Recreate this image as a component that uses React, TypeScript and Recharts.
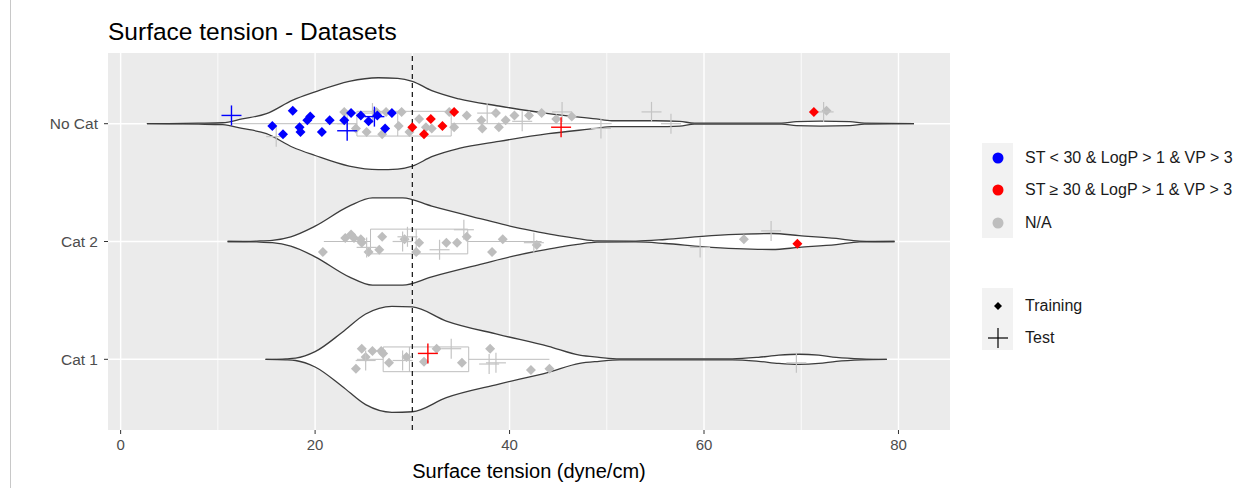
import React from "react";
import {
  ComposedChart,
  Area,
  Scatter,
  XAxis,
  YAxis,
  CartesianGrid,
  ReferenceLine,
  ReferenceArea,
} from "recharts";

// y positions: 1 = Cat 1, 2 = Cat 2, 3 = No Cat
const categoryLabels: Record<number, string> = { 1: "Cat 1", 2: "Cat 2", 3: "No Cat" };
const yTicks = [1, 2, 3];
const xTicks = [0, 20, 40, 60, 80];
const xMinor = [10, 30, 50, 70];
const threshold = 30;

// violin outlines: [surface tension, half width]
const violinNoCat: [number, number][] = [
  [2.7, 0], [8, 0.004], [10.5, 0.008], [12.5, 0.04], [15, 0.085], [17.7, 0.2],
  [20, 0.27], [23.5, 0.36], [26.5, 0.39], [28.5, 0.385], [30, 0.36], [32, 0.28],
  [34.8, 0.21], [38.9, 0.15], [44, 0.085], [48.9, 0.04], [50.5, 0.025], [55, 0.025],
  [57.5, 0.02], [59, 0.004], [68, 0.004], [69.5, 0.017], [72, 0.021], [75, 0.017],
  [76.5, 0.004], [81.6, 0],
];
const violinCat2: [number, number][] = [
  [11, 0], [14, 0.004], [15.6, 0.01], [17.5, 0.04], [20, 0.13], [23.5, 0.3],
  [25.9, 0.37], [29, 0.37], [32, 0.3], [37.2, 0.19], [40.6, 0.12], [43, 0.08],
  [45, 0.05], [47, 0.025], [49, 0.006], [53, 0.004], [56, 0.017], [59.8, 0.043],
  [63.3, 0.06], [67, 0.068], [69.8, 0.05], [73.6, 0.026], [76, 0.004], [79.6, 0],
];
const violinCat1: [number, number][] = [
  [14.9, 0], [17, 0.004], [18, 0.01], [20, 0.065], [22.8, 0.23], [25.2, 0.385],
  [27.9, 0.45], [30, 0.445], [33.5, 0.325], [38.9, 0.21], [44, 0.11], [47.2, 0.035],
  [49.2, 0.017], [51.3, 0.004], [62.9, 0.004], [65.6, 0.017], [67.7, 0.035],
  [69.8, 0.043], [71.8, 0.035], [73.6, 0.017], [76.2, 0.004], [78.8, 0],
];

// box plots: category, lower whisker, q1, median, q3, upper whisker
const boxes = [
  { cat: 3, lo: 11.4, q1: 24.3, med: 28.5, q3: 34, hi: 50.5 },
  { cat: 2, lo: 20.9, q1: 25.7, med: 30.4, q3: 35.7, hi: 43.3 },
  { cat: 1, lo: 24.3, q1: 27, med: 29.7, q3: 35.8, hi: 44.1 },
];
const boxHalf = 0.105;

// points (x = surface tension, y = category + jitter)
const grayTraining = [
  { x: 23.0, y: 3.1 }, { x: 24.2, y: 2.96 }, { x: 25.3, y: 2.93 }, { x: 26.3, y: 3.1 },
  { x: 27.3, y: 3.1 }, { x: 26.9, y: 2.91 }, { x: 28.6, y: 2.98 }, { x: 28.9, y: 3.1 },
  { x: 29.7, y: 2.93 }, { x: 30.7, y: 3.04 }, { x: 31.4, y: 2.97 }, { x: 32.0, y: 2.96 },
  { x: 33.8, y: 3.1 }, { x: 34.3, y: 2.97 }, { x: 35.6, y: 3.07 }, { x: 37.1, y: 3.03 },
  { x: 37.2, y: 2.96 }, { x: 38.6, y: 3.09 }, { x: 38.9, y: 2.97 }, { x: 39.6, y: 3.03 },
  { x: 40.5, y: 3.07 }, { x: 42.0, y: 3.07 }, { x: 43.3, y: 3.09 }, { x: 44.8, y: 3.04 },
  { x: 46.4, y: 3.06 }, { x: 72.6, y: 3.11 },
  { x: 20.8, y: 1.91 }, { x: 23.1, y: 2.03 }, { x: 23.7, y: 2.06 }, { x: 24.0, y: 2.03 },
  { x: 24.7, y: 2.02 }, { x: 24.8, y: 1.99 }, { x: 25.5, y: 1.91 }, { x: 26.6, y: 1.93 },
  { x: 26.9, y: 2.04 }, { x: 29.2, y: 2.02 }, { x: 30.4, y: 1.91 }, { x: 30.7, y: 1.99 },
  { x: 33.5, y: 1.99 }, { x: 34.6, y: 1.99 }, { x: 35.6, y: 2.04 }, { x: 38.2, y: 1.91 },
  { x: 39.3, y: 2.02 }, { x: 42.8, y: 1.97 }, { x: 64.1, y: 2.02 },
  { x: 24.8, y: 1.09 }, { x: 24.2, y: 0.92 }, { x: 25.2, y: 1.02 }, { x: 25.9, y: 1.07 },
  { x: 26.8, y: 1.07 }, { x: 27.0, y: 1.05 }, { x: 27.6, y: 0.97 }, { x: 29.4, y: 1.02 },
  { x: 31.2, y: 0.98 }, { x: 32.5, y: 1.09 }, { x: 35.1, y: 0.97 }, { x: 38.0, y: 1.09 },
  { x: 42.2, y: 0.91 }, { x: 44.1, y: 0.92 },
];
const grayTest = [
  { x: 23.3, y: 3.0 }, { x: 25.9, y: 3.09 }, { x: 16.0, y: 2.89 }, { x: 37.7, y: 3.09 },
  { x: 41.3, y: 3.02 }, { x: 45.4, y: 3.1 }, { x: 49.4, y: 2.96 }, { x: 54.6, y: 3.1 },
  { x: 56.6, y: 3.0 }, { x: 72.3, y: 3.1 },
  { x: 25.3, y: 1.95 }, { x: 29.0, y: 2.0 }, { x: 29.5, y: 2.04 }, { x: 32.8, y: 1.93 },
  { x: 35.3, y: 2.1 }, { x: 42.5, y: 1.99 }, { x: 66.9, y: 2.09 }, { x: 59.6, y: 1.95 },
  { x: 25.2, y: 0.99 }, { x: 29.0, y: 0.99 }, { x: 34.0, y: 1.09 }, { x: 37.9, y: 0.96 },
  { x: 38.6, y: 0.97 }, { x: 69.5, y: 0.97 },
];
const redTraining = [
  { x: 34.3, y: 3.1 }, { x: 31.9, y: 3.04 }, { x: 30.0, y: 2.97 }, { x: 31.2, y: 2.91 },
  { x: 33.1, y: 2.98 }, { x: 71.3, y: 3.1 }, { x: 69.6, y: 1.98 },
];
const redTest = [{ x: 45.3, y: 2.97 }, { x: 31.6, y: 1.05 }];
const blueTraining = [
  { x: 17.7, y: 3.11 }, { x: 15.6, y: 2.98 }, { x: 16.7, y: 2.91 }, { x: 18.4, y: 2.97 },
  { x: 18.5, y: 2.93 }, { x: 19.2, y: 3.03 }, { x: 19.5, y: 3.06 }, { x: 20.7, y: 2.93 },
  { x: 21.5, y: 3.03 }, { x: 23.7, y: 3.09 }, { x: 23.0, y: 3.03 }, { x: 24.7, y: 3.07 },
  { x: 25.5, y: 3.02 }, { x: 26.4, y: 3.07 }, { x: 27.2, y: 2.96 }, { x: 27.9, y: 3.09 },
];
const blueTest = [{ x: 11.4, y: 3.07 }, { x: 26.1, y: 3.06 }, { x: 23.3, y: 2.94 }];

const BLUE = "#0000ff";
const RED = "#ff0000";
const GRAY = "#bebebe";
const FONT = "'Liberation Sans', Arial, sans-serif";

const toViolin = (pts: [number, number][], cat: number) =>
  pts.map(([x, w]) => ({ x, r: [cat - w, cat + w] }));

const diamond = (color: string) => (p: any) => {
  const { cx, cy } = p;
  const s = 5;
  return (
    <polygon
      points={`${cx},${cy - s} ${cx + s},${cy} ${cx},${cy + s} ${cx - s},${cy}`}
      fill={color}
    />
  );
};

const plus = (color: string, w: number) => (p: any) => {
  const { cx, cy } = p;
  const s = 10;
  return (
    <g stroke={color} strokeWidth={w}>
      <line x1={cx - s} y1={cy} x2={cx + s} y2={cy} />
      <line x1={cx} y1={cy - s} x2={cx} y2={cy + s} />
    </g>
  );
};

const legendRows = [
  { y: 158, color: BLUE, text: "ST < 30 & LogP > 1 & VP > 3" },
  { y: 190, color: RED, text: "ST ≥ 30 & LogP > 1 & VP > 3" },
  { y: 223, color: GRAY, text: "N/A" },
];
const shapeRows = [
  { y: 306, text: "Training" },
  { y: 338, text: "Test" },
];

const legendText = (y: number, text: string) => (
  <div
    key={text}
    style={{
      position: "absolute",
      left: 1025,
      top: y - 9,
      fontSize: 16,
      lineHeight: "18px",
      color: "#1a1a1a",
      whiteSpace: "nowrap",
    }}
  >
    {text}
  </div>
);

export default function App() {
  return (
    <div
      style={{
        position: "fixed",
        left: 0,
        top: 0,
        width: 1249,
        height: 488,
        background: "#fff",
        fontFamily: FONT,
        overflow: "hidden",
      }}
    >
      <div style={{ position: "absolute", left: 10, top: 0, width: 1, height: 488, background: "#c8c8c8" }} />
      <div
        style={{
          position: "absolute",
          left: 108,
          top: 20,
          fontSize: 24.5,
          lineHeight: "24px",
          color: "#000",
          whiteSpace: "nowrap",
        }}
      >
        Surface tension - Datasets
      </div>

      <ComposedChart
        width={1249}
        height={488}
        margin={{ top: 53, right: 299, bottom: 10, left: 48 }}
        style={{ position: "absolute", left: 0, top: 0 }}
      >
        <CartesianGrid fill="#ebebeb" stroke="#ffffff" strokeWidth={0.8} verticalValues={xMinor} horizontal={false} />
        <CartesianGrid stroke="#ffffff" strokeWidth={1.4} verticalValues={xTicks} horizontalValues={yTicks} />
        <XAxis
          type="number"
          dataKey="x"
          domain={[-1.3, 85.3]}
          ticks={xTicks}
          allowDataOverflow
          axisLine={false}
          tickLine={{ stroke: "#333" }}
          tickSize={4}
          tickMargin={5}
          height={48}
          tick={{ fill: "#4d4d4d", fontSize: 15, fontFamily: FONT }}
          label={{
            value: "Surface tension (dyne/cm)",
            position: "insideBottom",
            offset: 0,
            fill: "#000",
            fontSize: 20,
            fontFamily: FONT,
          }}
        />
        <YAxis
          type="number"
          dataKey="y"
          domain={[0.4, 3.6]}
          ticks={yTicks}
          allowDataOverflow
          axisLine={false}
          tickLine={{ stroke: "#333" }}
          tickSize={4}
          tickMargin={6}
          width={60}
          tickFormatter={(v: number) => categoryLabels[v] ?? ""}
          tick={{ fill: "#4d4d4d", fontSize: 15.5, fontFamily: FONT }}
        />

        {[
          { pts: violinNoCat, cat: 3 },
          { pts: violinCat2, cat: 2 },
          { pts: violinCat1, cat: 1 },
        ].map((v) => (
          <Area
            key={v.cat}
            data={toViolin(v.pts, v.cat)}
            dataKey="r"
            type="monotone"
            stroke="#3c3c3c"
            strokeWidth={1.3}
            fill="#ffffff"
            fillOpacity={1}
            dot={false}
            activeDot={false}
            isAnimationActive={false}
          />
        ))}

        {boxes.map((b) => (
          <ReferenceArea
            key={`box${b.cat}`}
            x1={b.q1}
            x2={b.q3}
            y1={b.cat - boxHalf}
            y2={b.cat + boxHalf}
            fill="none"
            stroke={GRAY}
            strokeWidth={1}
          />
        ))}
        {boxes.map((b) => (
          <ReferenceLine
            key={`lw${b.cat}`}
            segment={[{ x: b.lo, y: b.cat }, { x: b.q1, y: b.cat }]}
            stroke={GRAY}
            strokeWidth={1}
          />
        ))}
        {boxes.map((b) => (
          <ReferenceLine
            key={`hw${b.cat}`}
            segment={[{ x: b.q3, y: b.cat }, { x: b.hi, y: b.cat }]}
            stroke={GRAY}
            strokeWidth={1}
          />
        ))}
        {boxes.map((b) => (
          <ReferenceLine
            key={`md${b.cat}`}
            segment={[{ x: b.med, y: b.cat - boxHalf }, { x: b.med, y: b.cat + boxHalf }]}
            stroke={GRAY}
            strokeWidth={1}
          />
        ))}

        <Scatter data={grayTraining} shape={diamond(GRAY)} isAnimationActive={false} />
        <Scatter data={grayTest} shape={plus("#c4c4c4", 1.2)} isAnimationActive={false} />
        <Scatter data={redTraining} shape={diamond(RED)} isAnimationActive={false} />
        <Scatter data={redTest} shape={plus(RED, 1.4)} isAnimationActive={false} />
        <Scatter data={blueTraining} shape={diamond(BLUE)} isAnimationActive={false} />
        <Scatter data={blueTest} shape={plus(BLUE, 1.4)} isAnimationActive={false} />

        <ReferenceLine x={threshold} stroke="#111" strokeWidth={1.2} strokeDasharray="5 4" />
      </ComposedChart>

      {/* legend */}
      <div style={{ position: "absolute", left: 982, top: 143, width: 31, height: 95, background: "#f2f2f2" }} />
      <div style={{ position: "absolute", left: 982, top: 288, width: 31, height: 62, background: "#f2f2f2" }} />
      <svg style={{ position: "absolute", left: 0, top: 0 }} width={1249} height={488}>
        {legendRows.map((r) => (
          <circle key={r.y} cx={998} cy={r.y} r={5.5} fill={r.color} />
        ))}
        <polygon points="998,302 1002,306 998,310 994,306" fill="#000" />
        <g stroke="#000" strokeWidth={1.2}>
          <line x1={988} y1={338} x2={1008} y2={338} />
          <line x1={998} y1={328} x2={998} y2={348} />
        </g>
      </svg>
      {legendRows.map((r) => legendText(r.y, r.text))}
      {shapeRows.map((r) => legendText(r.y, r.text))}
    </div>
  );
}
